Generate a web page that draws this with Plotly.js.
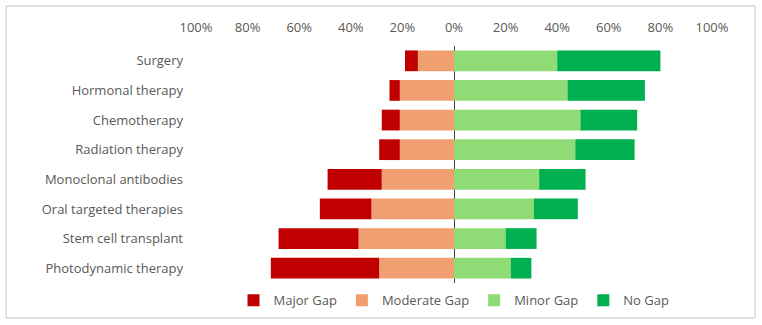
<!DOCTYPE html>
<html>
<head>
<meta charset="utf-8">
<script src="https://cdn.plot.ly/plotly-3.0.1.min.js"></script>
<style>html,body{margin:0;padding:0;background:#fff;}#chart{width:762px;height:325px;}</style>
</head>
<body>
<div id="chart"></div>
<script>
const categories = ["Surgery","Hormonal therapy","Chemotherapy","Radiation therapy","Monoclonal antibodies","Oral targeted therapies","Stem cell transplant","Photodynamic therapy"];
const majorGap = [5, 4, 7, 8, 21, 20, 31, 42];
const moderateGap = [14, 21, 21, 21, 28, 32, 37, 29];
const minorGap = [40, 44, 49, 47, 33, 31, 20, 22];
const noGap = [40, 30, 22, 23, 18, 17, 12, 8];
const tickVals = [-100,-80,-60,-40,-20,0,20,40,60,80,100];
const tickText = ["100%","80%","60%","40%","20%","0%","20%","40%","60%","80%","100%"];

const font = "Open Sans, Liberation Sans, sans-serif";
function mk(name, vals, color, rank, neg){
  return {type:'bar', orientation:'h', name:name, y:categories,
    x: vals.map(v => neg ? -v : v),
    marker:{color:color, line:{width:0}}, legendrank:rank, hoverinfo:'skip'};
}
const data = [
  mk("Moderate Gap", moderateGap, "#F0A070", 2, true),
  mk("Major Gap", majorGap, "#C00000", 1, true),
  mk("Minor Gap", minorGap, "#8FDB75", 3, false),
  mk("No Gap", noGap, "#00B050", 4, false)
];
const L=196, R=712, T=46, B=283;
const W=R-L, H=B-T;
const layout = {
  width:762, height:325,
  margin:{l:L, r:762-R, t:T, b:325-B, pad:0, autoexpand:false},
  paper_bgcolor:'#fff', plot_bgcolor:'#fff',
  barmode:'relative', bargap:0.3,
  font:{family:font, size:13, color:'#595959'},
  xaxis:{range:[-100,100], side:'top', tickvals:tickVals, ticktext:tickText,
    showgrid:false, zeroline:true, zerolinecolor:'#404040', zerolinewidth:1,
    showline:false, ticks:'', ticklabelstandoff:10, tickfont:{size:13, color:'#595959'}, fixedrange:true},
  yaxis:{autorange:'reversed', showgrid:false, zeroline:false, showline:false, ticks:'',
    ticklabelstandoff:12, tickfont:{size:13, color:'#595959'}, fixedrange:true},
  showlegend:true,
  legend:{orientation:'h', x:0.5, xanchor:'center', y:-0.01, yanchor:'top',
    bgcolor:'rgba(0,0,0,0)',
    font:{size:13, color:'#595959'}, itemwidth:30, traceorder:'normal'},
  shapes:[{type:'rect', xref:'paper', yref:'paper',
    x0:(6-L)/W, x1:(755-L)/W, y0:(B-318)/H, y1:(B-6)/H,
    line:{color:'#BCC8CC', width:1}, fillcolor:'rgba(0,0,0,0)', layer:'below'}]
};
Plotly.newPlot('chart', data, layout, {staticPlot:true, displayModeBar:false});
</script>
</body>
</html>
